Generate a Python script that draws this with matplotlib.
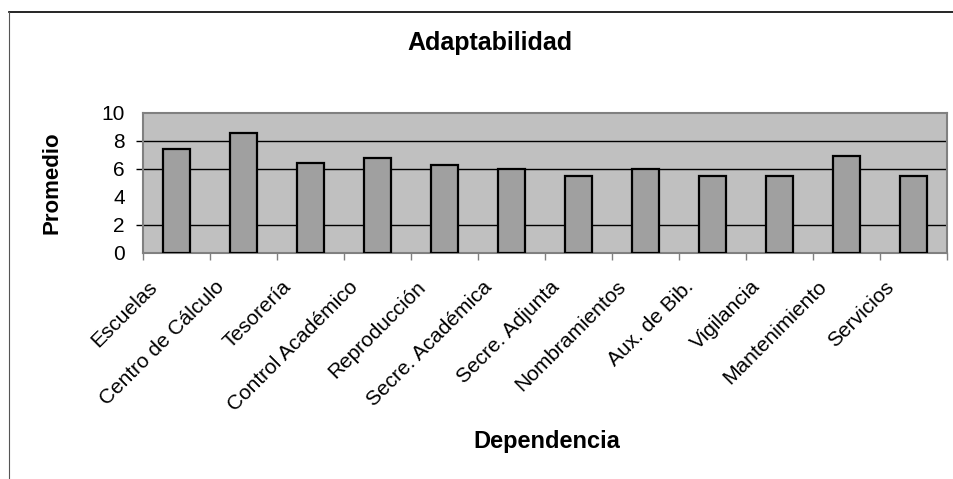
import matplotlib
matplotlib.use("Agg")
import matplotlib.pyplot as plt
import matplotlib.transforms as mtransforms
from matplotlib.lines import Line2D
import numpy as np

plt.rcParams["font.family"] = ["Liberation Sans", "DejaVu Sans"]

categorias = [
    "Escuelas", "Centro de Cálculo", "Tesorería", "Control Académico",
    "Reproducción", "Secre. Académica", "Secre. Adjunta", "Nombramientos",
    "Aux. de Bib.", "Vigilancia", "Mantenimiento", "Servicios",
]
promedios = [7.4, 8.6, 6.4, 6.8, 6.3, 6.0, 5.5, 6.0, 5.5, 5.5, 6.9, 5.5]
yticks = [0, 2, 4, 6, 8, 10]
grid_y = [2, 6, 8]

W, H = 954, 479
fig = plt.figure(figsize=(W / 100, H / 100), dpi=100)
fig.patch.set_facecolor("white")

# chart frame (top and left edges visible)
fig.add_artist(Line2D([9 / W, 1], [1 - 12 / H, 1 - 12 / H], color="black", lw=1.2))
fig.add_artist(Line2D([9 / W, 9 / W], [0, 1 - 12 / H], color="#555555", lw=0.8))

ax = fig.add_axes([143 / W, 1 - 253 / H, (947 - 143) / W, (253 - 113) / H])
ax.set_facecolor("#C0C0C0")

x = np.arange(len(categorias))
ax.bar(x, promedios, width=0.4, color="#A0A0A0", edgecolor="black",
       linewidth=1.6, zorder=3)

ax.set_xlim(-0.5, len(categorias) - 0.5)
ax.set_ylim(0, 10)

ax.yaxis.remove_overlapping_locs = False
ax.set_yticks(yticks)
ax.set_yticklabels([str(v) for v in yticks], fontsize=15)
ax.set_yticks(grid_y, minor=True)
ax.tick_params(axis="y", which="major", length=0, pad=13)
ax.tick_params(axis="y", which="minor", length=5, color="black", width=1)
ax.grid(axis="y", which="minor", color="black", linewidth=1)
ax.set_axisbelow(True)

ax.set_xticks(x)
ax.set_xticklabels(categorias, rotation=45, ha="right",
                   rotation_mode="anchor", fontsize=15)
ax.set_xticks(np.arange(len(categorias) + 1) - 0.5, minor=True)
ax.tick_params(axis="x", which="major", length=0, pad=13)
ax.tick_params(axis="x", which="minor", length=5, color="#808080", width=1)

# shift the rotated labels so their ends sit left of the category centre
shift = mtransforms.ScaledTranslation(-29 / 100, -6 / 100, fig.dpi_scale_trans)
for lbl in ax.get_xticklabels():
    lbl.set_transform(lbl.get_transform() + shift)

for s in ax.spines.values():
    s.set_color("#808080")
    s.set_linewidth(1.5)

fig.text(490 / W, 1 - 50 / H, "Adaptabilidad", ha="center", va="baseline",
         fontsize=18, fontweight="bold")
fig.text(58 / W, 1 - 183 / H, "Promedio", ha="center", va="baseline",
         rotation=90, rotation_mode="anchor", fontsize=16, fontweight="bold")
fig.text(547 / W, 1 - 448 / H, "Dependencia", ha="center", va="baseline",
         fontsize=17, fontweight="bold")

fig.savefig("out.png", dpi=100)
